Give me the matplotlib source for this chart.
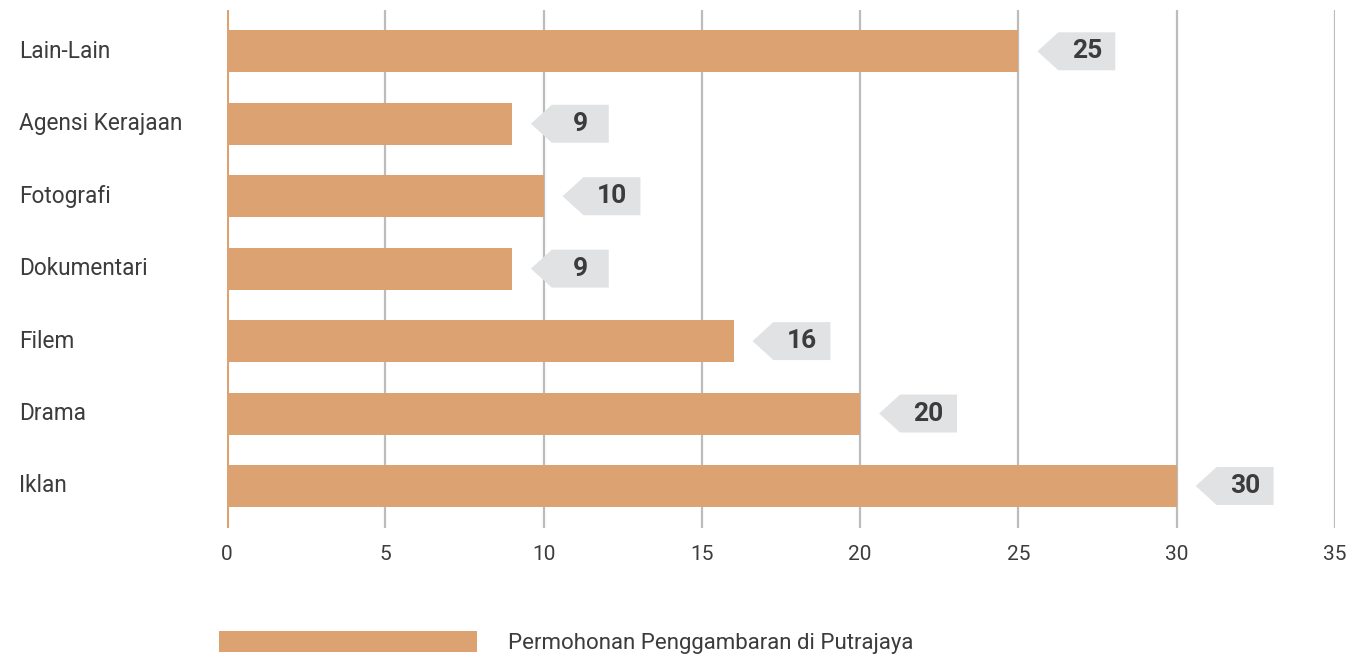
import matplotlib
matplotlib.use('Agg')
import matplotlib.pyplot as plt
from matplotlib.patches import Polygon, Patch
from matplotlib.transforms import blended_transform_factory

# Filming applications by category
categories = ["Iklan", "Drama", "Filem", "Dokumentari", "Fotografi", "Agensi Kerajaan", "Lain-Lain"]
counts = [30, 20, 16, 9, 10, 9, 25]
series_name = "Permohonan Penggambaran di Putrajaya"
x_ticks = [0, 5, 10, 15, 20, 25, 30, 35]

BAR_COLOR = "#dda271"
GRID_COLOR = "#bcbcbc"
TEXT_COLOR = "#3c3c3c"
TAG_COLOR = "#e1e2e4"

plt.rcParams['font.family'] = ['Roboto', 'DejaVu Sans']

fig = plt.figure(figsize=(13.54, 6.57), dpi=100)
ax = fig.add_axes([227 / 1354, 1 - 528 / 657, (1335 - 227) / 1354, (528 - 10) / 657])

y = list(range(len(categories)))
ax.barh(y, counts, height=0.58, color=BAR_COLOR, zorder=3)

ax.set_xlim(0, 35)
ax.set_ylim(-0.58, 6.57)
for t in x_ticks[1:]:
    ax.axvline(t, color=GRID_COLOR, lw=1.6, zorder=1)
ax.axvline(0, color=BAR_COLOR, lw=2.2, zorder=2)

for s in ax.spines.values():
    s.set_visible(False)
ax.set_xticks(x_ticks)
ax.set_xticklabels([str(t) for t in x_ticks], fontsize=15, color=TEXT_COLOR)
ax.set_yticks([])
ax.tick_params(axis='x', length=0, pad=12)

# category names sit at the left edge of the figure
label_trans = blended_transform_factory(fig.transFigure, ax.transData)
for yi, name in zip(y, categories):
    ax.text(19 / 1354, yi, name, transform=label_trans,
            ha='left', va='center', fontsize=16.3, color=TEXT_COLOR)

# grey arrow-shaped value tags to the right of each bar
gap, depth, width, half_h = 0.6, 0.66, 2.46, 0.262
for yi, v in zip(y, counts):
    tip = v + gap
    pts = [(tip, yi), (tip + depth, yi + half_h), (tip + width, yi + half_h),
           (tip + width, yi - half_h), (tip + depth, yi - half_h)]
    ax.add_patch(Polygon(pts, closed=True, facecolor=TAG_COLOR, edgecolor='none', zorder=4))
    ax.text(tip + (depth + width) / 2, yi, str(v), ha='center', va='center',
            fontsize=19, fontweight='bold', color=TEXT_COLOR, zorder=5)

handle = Patch(facecolor=BAR_COLOR, edgecolor='none')
fig.legend([handle], [series_name], loc='lower left', bbox_to_anchor=(219 / 1354, 3 / 657),
           frameon=False, fontsize=16, handlelength=11.6, handleheight=1.1,
           handletextpad=1.4, borderpad=0, borderaxespad=0, labelcolor=TEXT_COLOR)

fig.savefig("out.png", dpi=100)
